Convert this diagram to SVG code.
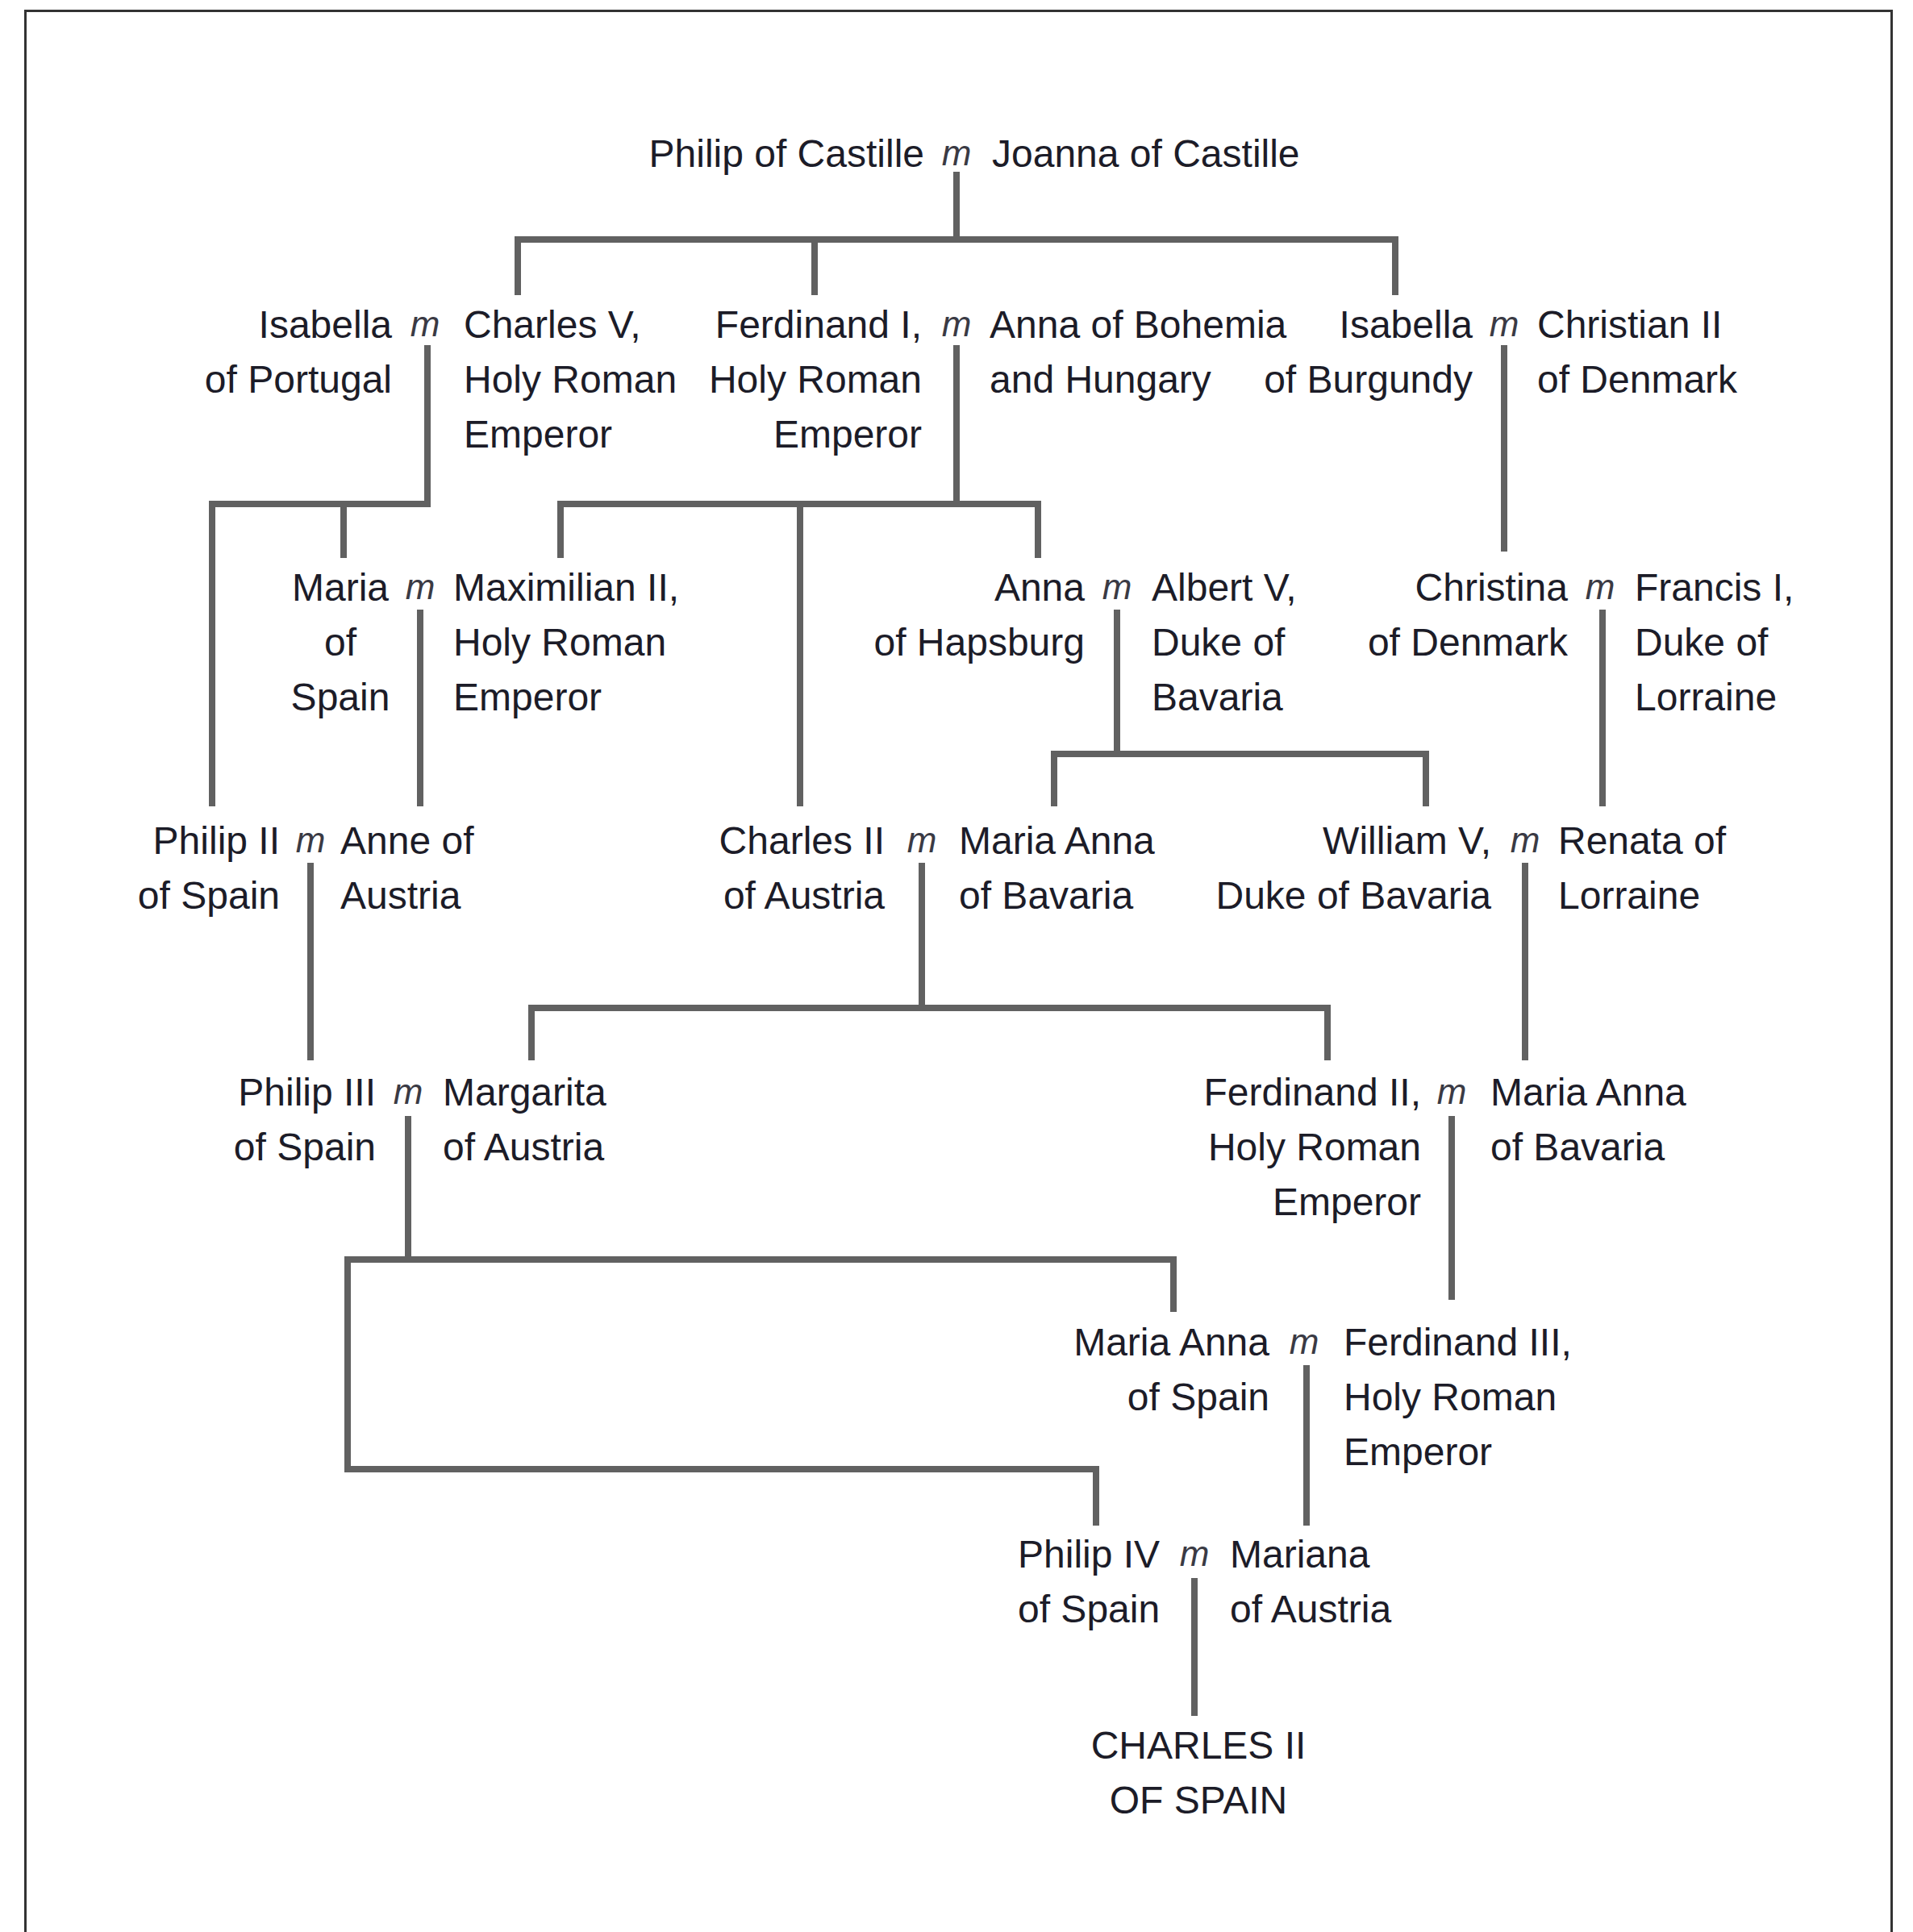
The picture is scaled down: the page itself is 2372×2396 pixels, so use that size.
<svg xmlns="http://www.w3.org/2000/svg" width="2372" height="2396" viewBox="0 0 2372 2396">
<style>
text{font-family:"Liberation Sans",Arial,sans-serif;font-size:48px;fill:#1c1c28}
.r{text-anchor:end}
.c{text-anchor:middle}
.m{font-style:italic;font-size:44px;fill:#3a3a44;text-anchor:middle}
.ln{stroke:#616161;stroke-width:8;fill:none;stroke-linecap:square;stroke-linejoin:miter}
</style>
<rect x="0" y="0" width="2372" height="2396" fill="#ffffff"/>
<path d="M31.5,2396 V13.5 H2345.5 V2396" fill="none" stroke="#333" stroke-width="3"/>

<g id="connectors" class="ln">
<path d="M1186,217 V297"/>
<path d="M642,362 V297 H1730 V362"/>
<path d="M1010,297 V362"/>
<path d="M530,432 V625 H263 V996"/>
<path d="M426,625 V688"/>
<path d="M1186,432 V625"/>
<path d="M695,688 V625 H1287 V688"/>
<path d="M992,625 V996"/>
<path d="M1865,432 V680"/>
<path d="M521,760 V996"/>
<path d="M1385,760 V935"/>
<path d="M1307,996 V935 H1768 V996"/>
<path d="M1987,760 V996"/>
<path d="M385,1074 V1311"/>
<path d="M1143,1074 V1250"/>
<path d="M659,1311 V1250 H1646 V1311"/>
<path d="M1891,1074 V1311"/>
<path d="M506,1388 V1562"/>
<path d="M1455,1623 V1562 H431 V1822 H1359 V1888"/>
<path d="M1800,1388 V1608"/>
<path d="M1620,1697 V1888"/>
<path d="M1481,1961 V2124"/>
</g>

<g id="philip-of-castille"><text class="r" x="1146" y="207">Philip of Castille</text></g>
<g id="m-0"><text class="m" x="1186" y="205">m</text></g>
<g id="joanna-of-castille"><text x="1230" y="207">Joanna of Castille</text></g>

<g id="isabella-of-portugal"><text class="r" x="486" y="419">Isabella</text><text class="r" x="486" y="487">of Portugal</text></g>
<g id="m-1a"><text class="m" x="527" y="417">m</text></g>
<g id="charles-v"><text x="575" y="419">Charles V,</text><text x="575" y="487">Holy Roman</text><text x="575" y="555">Emperor</text></g>

<g id="ferdinand-i"><text class="r" x="1143" y="419">Ferdinand I,</text><text class="r" x="1143" y="487">Holy Roman</text><text class="r" x="1143" y="555">Emperor</text></g>
<g id="m-1b"><text class="m" x="1186" y="417">m</text></g>
<g id="anna-of-bohemia"><text x="1227" y="419">Anna of Bohemia</text><text x="1227" y="487">and Hungary</text></g>

<g id="isabella-of-burgundy"><text class="r" x="1826" y="419">Isabella</text><text class="r" x="1826" y="487">of Burgundy</text></g>
<g id="m-1c"><text class="m" x="1865" y="417">m</text></g>
<g id="christian-ii"><text x="1906" y="419">Christian II</text><text x="1906" y="487">of Denmark</text></g>

<g id="maria-of-spain"><text class="c" x="422" y="745">Maria</text><text class="c" x="422" y="813">of</text><text class="c" x="422" y="881">Spain</text></g>
<g id="m-2a"><text class="m" x="521" y="743">m</text></g>
<g id="maximilian-ii"><text x="562" y="745">Maximilian II,</text><text x="562" y="813">Holy Roman</text><text x="562" y="881">Emperor</text></g>

<g id="anna-of-hapsburg"><text class="r" x="1345" y="745">Anna</text><text class="r" x="1345" y="813">of Hapsburg</text></g>
<g id="m-2b"><text class="m" x="1385" y="743">m</text></g>
<g id="albert-v"><text x="1428" y="745">Albert V,</text><text x="1428" y="813">Duke of</text><text x="1428" y="881">Bavaria</text></g>

<g id="christina-of-denmark"><text class="r" x="1944" y="745">Christina</text><text class="r" x="1944" y="813">of Denmark</text></g>
<g id="m-2c"><text class="m" x="1984" y="743">m</text></g>
<g id="francis-i"><text x="2027" y="745">Francis I,</text><text x="2027" y="813">Duke of</text><text x="2027" y="881">Lorraine</text></g>

<g id="philip-ii"><text class="r" x="347" y="1059">Philip II</text><text class="r" x="347" y="1127">of Spain</text></g>
<g id="m-3a"><text class="m" x="385" y="1057">m</text></g>
<g id="anne-of-austria"><text x="422" y="1059">Anne of</text><text x="422" y="1127">Austria</text></g>

<g id="charles-ii-of-austria"><text class="r" x="1097" y="1059">Charles II</text><text class="r" x="1097" y="1127">of Austria</text></g>
<g id="m-3b"><text class="m" x="1143" y="1057">m</text></g>
<g id="maria-anna-of-bavaria-1"><text x="1189" y="1059">Maria Anna</text><text x="1189" y="1127">of Bavaria</text></g>

<g id="william-v"><text class="r" x="1849" y="1059">William V,</text><text class="r" x="1849" y="1127">Duke of Bavaria</text></g>
<g id="m-3c"><text class="m" x="1891" y="1057">m</text></g>
<g id="renata-of-lorraine"><text x="1932" y="1059">Renata of</text><text x="1932" y="1127">Lorraine</text></g>

<g id="philip-iii"><text class="r" x="466" y="1371">Philip III</text><text class="r" x="466" y="1439">of Spain</text></g>
<g id="m-4a"><text class="m" x="506" y="1369">m</text></g>
<g id="margarita-of-austria"><text x="549" y="1371">Margarita</text><text x="549" y="1439">of Austria</text></g>

<g id="ferdinand-ii"><text class="r" x="1762" y="1371">Ferdinand II,</text><text class="r" x="1762" y="1439">Holy Roman</text><text class="r" x="1762" y="1507">Emperor</text></g>
<g id="m-4b"><text class="m" x="1800" y="1369">m</text></g>
<g id="maria-anna-of-bavaria-2"><text x="1848" y="1371">Maria Anna</text><text x="1848" y="1439">of Bavaria</text></g>

<g id="maria-anna-of-spain"><text class="r" x="1574" y="1681">Maria Anna</text><text class="r" x="1574" y="1749">of Spain</text></g>
<g id="m-5"><text class="m" x="1617" y="1679">m</text></g>
<g id="ferdinand-iii"><text x="1666" y="1681">Ferdinand III,</text><text x="1666" y="1749">Holy Roman</text><text x="1666" y="1817">Emperor</text></g>

<g id="philip-iv"><text x="1262" y="1944">Philip IV</text><text x="1262" y="2012">of Spain</text></g>
<g id="m-6"><text class="m" x="1481" y="1942">m</text></g>
<g id="mariana-of-austria"><text x="1525" y="1944">Mariana</text><text x="1525" y="2012">of Austria</text></g>

<g id="charles-ii-of-spain"><text class="c" x="1486" y="2181">CHARLES II</text><text class="c" x="1486" y="2249">OF SPAIN</text></g>
</svg>
